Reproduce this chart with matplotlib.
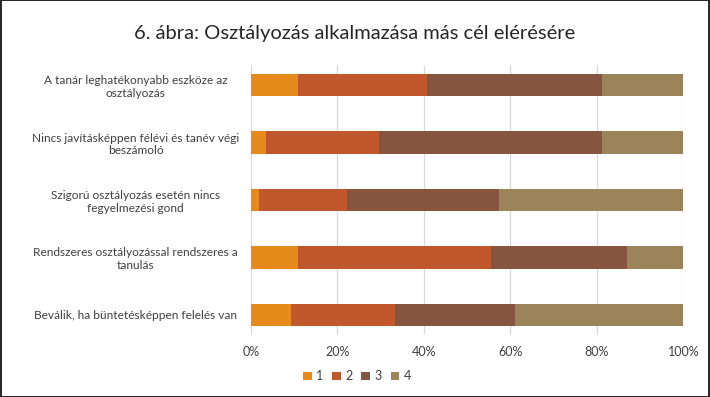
import numpy as np
import matplotlib
matplotlib.use("Agg")
import matplotlib.pyplot as plt

plt.rcParams['font.family'] = ['Lato', 'DejaVu Sans']

categories = [
    "A tanár leghatékonyabb eszköze az\nosztályozás",
    "Nincs javításképpen félévi és tanév végi\nbeszámoló",
    "Szigorú osztályozás esetén nincs\nfegyelmezési gond",
    "Rendszeres osztályozással rendszeres a\ntanulás",
    "Beválik, ha büntetésképpen felelés van",
]
series_names = ["1", "2", "3", "4"]
s1 = [10.9, 3.5, 1.9, 10.9, 9.2]
s2 = [29.9, 26.2, 20.2, 44.6, 24.1]
s3 = [40.5, 51.6, 35.2, 31.4, 27.8]
s4 = [18.7, 18.7, 42.7, 13.1, 38.9]
colors = ["#E58A1B", "#C0582B", "#855540", "#9B8459"]

fig = plt.figure(figsize=(7.1, 3.97), dpi=100)
ax = fig.add_axes([0.3535, 0.1562, 0.6089, 0.6801])

y = np.arange(len(categories))
left = np.zeros(len(categories))
for name, vals, c in zip(series_names, [s1, s2, s3, s4], colors):
    vals = np.array(vals)
    ax.barh(y, vals, left=left, height=0.39, color=c, label=name, zorder=3)
    left += vals

ax.set_xlim(0, 100)
ax.set_ylim(len(categories) - 0.65, -0.35)
ax.set_xticks(np.arange(0, 101, 20))
ax.set_xticklabels([f"{v}%" for v in range(0, 101, 20)])
ax.set_yticks(y)
ax.set_yticklabels(categories, ha="center", multialignment="center")
ax.tick_params(axis="y", length=0, pad=83, labelsize=8.6, labelcolor="#404040")
ax.tick_params(axis="x", length=0, pad=8, labelsize=9, labelcolor="#404040")
ax.grid(axis="x", color="#D9D9D9", linewidth=0.9, zorder=0)
for s in ax.spines.values():
    s.set_visible(False)

fig.text(0.5, 0.915, "6. ábra: Osztályozás alkalmazása más cél elérésére",
         ha="center", va="center", fontsize=14.5, color="#262626")

fig.legend(loc="center", bbox_to_anchor=(0.503, 0.052), ncol=4, frameon=False,
           fontsize=9, handlelength=0.7, handleheight=0.7, handletextpad=0.35,
           columnspacing=0.7, labelcolor="#404040")

fig.patches.append(plt.Rectangle((0.001, 0.001), 0.998, 0.998, transform=fig.transFigure,
                                 fill=False, edgecolor="black", linewidth=1.2))

fig.savefig("out.png", dpi=100)
